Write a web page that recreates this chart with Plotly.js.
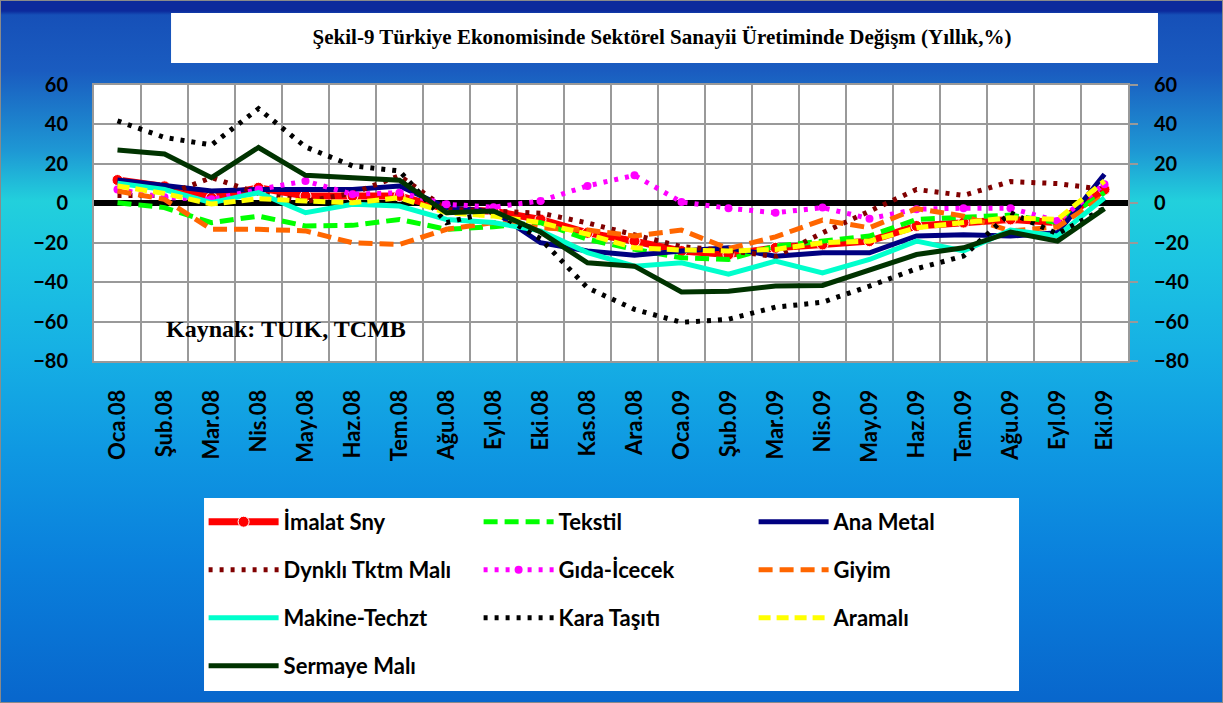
<!DOCTYPE html>
<html>
<head>
<meta charset="utf-8">
<script src="https://cdn.plot.ly/plotly-3.0.1.min.js"></script>
<style>
html,body{margin:0;padding:0;}
#chart{width:1223px;height:703px;box-sizing:border-box;border:1px solid #8a8a8a;
background:linear-gradient(to bottom,#0c2a9c 0px,#0c2a9c 10px,#1650b8 14px,#1a5cc0 70px,#1e98d4 150px,#22d0dc 200px,#1cc4e2 260px,#16b0e4 350px,#0f98e2 450px,#0a80dc 560px,#0866cc 703px);}
</style>
</head>
<body>
<div id="chart"></div>
<script>
const categories = ["Oca.08","Şub.08","Mar.08","Nis.08","May.08","Haz.08","Tem.08","Ağu.08","Eyl.08","Eki.08","Kas.08","Ara.08","Oca.09","Şub.09","Mar.09","Nis.09","May.09","Haz.09","Tem.09","Ağu.09","Eyl.09","Eki.09"];
const imalat   = [11.8, 8.6, 2.8, 7.9, 3.7, 3.7, 3.7, -3, -4, -8.2, -15, -19.2, -24.2, -26, -22.6, -20.9, -19.2, -11.5, -9.8, -8.2, -9.8, 7];
const tekstil  = [0.3, -2.2, -9.8, -6.5, -11.5, -11.2, -8.2, -13.2, -11.9, -9.8, -18.3, -23.4, -27.6, -28.5, -21.7, -19.2, -16.6, -8.2, -7.3, -6, -9.8, 5.4];
const anaMetal = [11.8, 9.1, 6.2, 7, 7, 7, 8.8, -2.2, -4, -20, -24.2, -26.3, -24.2, -22.6, -26.8, -25.1, -25.1, -16.6, -16, -16.6, -15, 14.7];
const dynkli   = [4, 4, 13, 5, 1, 5, 14, -3, -4, -5, -10, -16, -22, -24, -27, -15, -4, 7, 4, 11, 10, 7];
const gida     = [7, 3, 2, 7, 11.3, 4.6, 5.4, -0.5, -2, 1.2, 8.8, 14.2, 0.6, -2.5, -4.8, -2.2, -7.8, -3, -2.5, -2.5, -9, 9.7];
const giyim    = [6.2, 2, -13.2, -13.2, -14, -20, -20.9, -13.2, -9.8, -12.4, -13.6, -16.6, -13.6, -23, -17, -8.5, -12.4, -2.7, -6.5, -14, -12, 3.7];
const makine   = [10.2, 7, 0.3, 5.4, -4.8, -0.5, -1.4, -8.2, -9.8, -14, -25, -31.9, -30.2, -36, -29.3, -35.3, -28.5, -19.2, -24.2, -13.6, -16.6, 2.8];
const kara     = [41.8, 33.4, 29.6, 48, 28.6, 19, 16.4, -9.8, -4, -18, -42.9, -53.8, -60.4, -58.8, -52.7, -50.2, -42, -33.2, -26.8, -4.8, -15.5, -2.5];
const aramali  = [8.8, 5, -0.4, 2.3, 1.2, 0.3, 2.8, -4.8, -6.5, -9.8, -15.7, -22.6, -23.7, -24.2, -23.4, -20, -19.2, -12.4, -9.8, -7.3, -8.2, 11.3];
const sermaye  = [27, 25, 13, 28.3, 14.2, 13, 11.7, -4.8, -3.9, -14.6, -30.2, -31.9, -45, -44.6, -42, -41.7, -33.6, -26, -22.6, -14.6, -19.2, -2.7];
const seriesNames = ["İmalat Sny","Tekstil","Ana Metal","Dynklı Tktm Malı","Gıda-İcecek","Giyim","Makine-Techzt","Kara Taşıtı","Aramalı","Sermaye Malı"];

function tr(name, y, line, legend, extra){
  return Object.assign({type:'scatter', mode:'lines', x:categories, y:y, name:name, line:line, legend:legend}, extra||{});
}
const traces = [
  tr(seriesNames[0], imalat, {color:'#ff0000', width:7}, 'legend',
     {mode:'lines+markers', marker:{symbol:'circle', size:11, color:'#ff0000', line:{color:'#ffffff', width:1}}}),
  tr(seriesNames[1], tekstil, {color:'#00ff00', width:5, dash:'14px,7px'}, 'legend'),
  tr(seriesNames[2], anaMetal, {color:'#000080', width:5}, 'legend'),
  tr(seriesNames[3], dynkli, {color:'#800000', width:5, dash:'4px,7px'}, 'legend2'),
  tr(seriesNames[4], gida, {color:'#ff00ff', width:5, dash:'4px,7px'}, 'legend2',
     {mode:'lines+markers', marker:{symbol:'circle', size:8, color:'#ff00ff'}}),
  tr(seriesNames[5], giyim, {color:'#ff6600', width:5, dash:'14px,7px'}, 'legend2'),
  tr(seriesNames[6], makine, {color:'#00ffcc', width:5}, 'legend3'),
  tr(seriesNames[7], kara, {color:'#000000', width:5, dash:'4px,7px'}, 'legend3'),
  tr(seriesNames[8], aramali, {color:'#ffff00', width:5, dash:'12px,6px'}, 'legend3'),
  tr(seriesNames[9], sermaye, {color:'#003300', width:5}, 'legend4')
];

const legFont = {family:'Lato, sans-serif', size:22, color:'#000000', weight:'bold'};
function leg(y){
  return {orientation:'h', x:0.106, xanchor:'left', y:y, yanchor:'middle', bgcolor:'rgba(0,0,0,0)',
          font:legFont, entrywidth:190, entrywidthmode:'pixels', itemwidth:70, traceorder:'normal', itemclick:false};
}
const tickFont = {family:'Lato, sans-serif', size:20, color:'#000000', weight:'bold'};
const layout = {
  width:1223, height:703,
  margin:{l:93, r:96, t:84, b:343},
  paper_bgcolor:'rgba(0,0,0,0)',
  plot_bgcolor:'#ffffff',
  showlegend:true,
  title:{text:'Şekil-9 Türkiye Ekonomisinde Sektörel Sanayii Üretiminde Değişm (Yıllık,%)',
         font:{family:'Liberation Serif, serif', size:21, color:'#000000', weight:'bold'},
         xref:'container', x:0.5405, xanchor:'center', yref:'container', y:0.949, yanchor:'middle'},
  xaxis:{type:'category', categoryorder:'array', categoryarray:categories, range:[-0.5,21.5],
         tickson:'boundaries', showgrid:true, gridcolor:'#999999', gridwidth:2,
         showline:true, mirror:true, linecolor:'#999999', linewidth:2, ticks:'',
         tickangle:-90, tickfont:{family:'Lato, sans-serif', size:22, color:'#000000', weight:'bold'},
         ticklabelstandoff:18, fixedrange:true},
  yaxis:{range:[-80,60], dtick:20, tick0:0, showgrid:true, gridcolor:'#999999', gridwidth:2,
         zeroline:true, zerolinecolor:'#000000', zerolinewidth:6,
         showline:true, linecolor:'#999999', linewidth:2, ticks:'', tickfont:tickFont,
         ticklabelstandoff:20, fixedrange:true},
  yaxis2:{range:[-80,60], dtick:20, tick0:0, overlaying:'y', side:'right', showgrid:false, zeroline:false,
          showline:true, linecolor:'#999999', linewidth:2, ticks:'outside', ticklen:8, tickwidth:2, tickcolor:'#999999',
          tickfont:tickFont, ticklabelstandoff:12, fixedrange:true},
  legend:leg(-0.583), legend2:leg(-0.757), legend3:leg(-0.931), legend4:leg(-1.105),
  shapes:[
    {type:'rect', xref:'paper', yref:'paper', x0:0.0745, x1:1.029, y0:1.080, y1:1.261, fillcolor:'#ffffff', line:{width:0}, layer:'below'},
    {type:'rect', xref:'paper', yref:'paper', x0:0.1064, x1:0.8946, y0:-1.1957, y1:-0.4964, fillcolor:'#ffffff', line:{width:0}, layer:'below'}
  ],
  annotations:[
    {text:'Kaynak: TUIK, TCMB', xref:'paper', yref:'y', x:0.186, y:-64, xanchor:'center', yanchor:'middle', showarrow:false,
     font:{family:'Liberation Serif, serif', size:24, color:'#000000', weight:'bold'}}
  ]
};
// dummy trace to display the right-hand axis
traces.push({type:'scatter', mode:'lines', x:[categories[0]], y:[0], yaxis:'y2', showlegend:false, hoverinfo:'skip', line:{width:0}, opacity:0});
Plotly.newPlot('chart', traces, layout, {displayModeBar:false, staticPlot:true});
</script>
</body>
</html>
